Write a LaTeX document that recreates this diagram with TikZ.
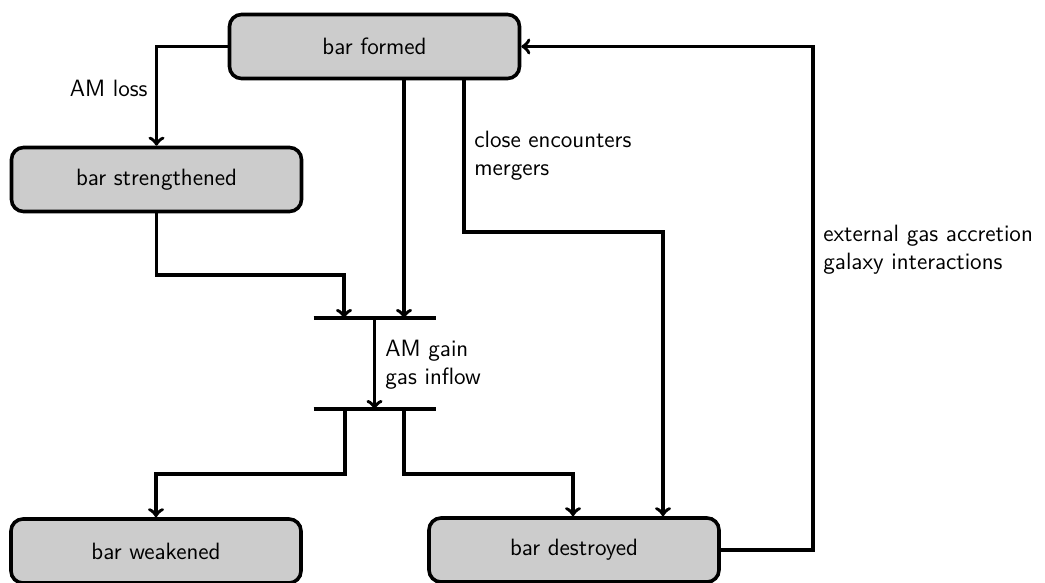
\documentclass[tikz,border=0pt]{standalone}
\usepackage{tikz}
\usetikzlibrary{calc}

\tikzset{
  state/.style={draw, line width=1.8pt, fill=black!20, rounded corners=6pt,
    minimum width=145pt, minimum height=32pt, inner sep=0pt},
  flow/.style={line width=1.8pt, ->},
  note/.style={align=left, inner sep=0pt},
}

\begin{document}
\begin{tikzpicture}[x=0.5pt, y=-0.5pt, font=\fontsize{11.8}{14}\selectfont\sffamily]

    \useasboundingbox (0,0) rectangle (1045,583);

    % states
    \node[state] (formed) at (374.5,46.5) {bar formed};
    \node[state] (strong) at (156.5,179.5) {bar strengthened};
    \node[state] (weak) at (156,551) {bar weakened};
    \node[state] (destr) at (574,550) {bar destroyed};

    % joins
    \coordinate (J1) at (374.5,318);
    \coordinate (J2) at (374.5,409);
    \draw[line width=1.8pt] ($(J1)+(-61,0)$) -- ($(J1)+(61,0)$);
    \draw[line width=1.8pt] ($(J2)+(-61,0)$) -- ($(J2)+(61,0)$);

    \draw[flow] (formed.west) -| (strong.north);
    \draw[flow] (formed.south -| 404,0) -- (J1 -| 404,0);
    \draw[flow] (strong.south) |- (344,275) -- (J1 -| 344,0);
    \draw[flow] (formed.south -| 464,0) |- (663,232) -- (destr.north -| 663,0);
    \draw[flow] (J1) -- (J2);
    \draw[flow] (J2 -| 345,0) |- (156,474) -- (weak.north);
    \draw[flow] (J2 -| 404,0) |- (573,474) -- (destr.north -| 573,0);
    \draw[flow] (destr.east) -| (813,200) |- (formed.east);

    % labels
    \node[note, anchor=east] (lloss) at (148,88) {AM loss};
    \node[note, anchor=west] (lclose) at (474,156) {close encounters\\mergers};
    \node[note, anchor=west] (lgain) at (385,365) {AM gain\\gas inflow};
    \node[note, anchor=west] (lext) at (823,250) {external gas accretion\\galaxy interactions};

\end{tikzpicture}
\end{document}
